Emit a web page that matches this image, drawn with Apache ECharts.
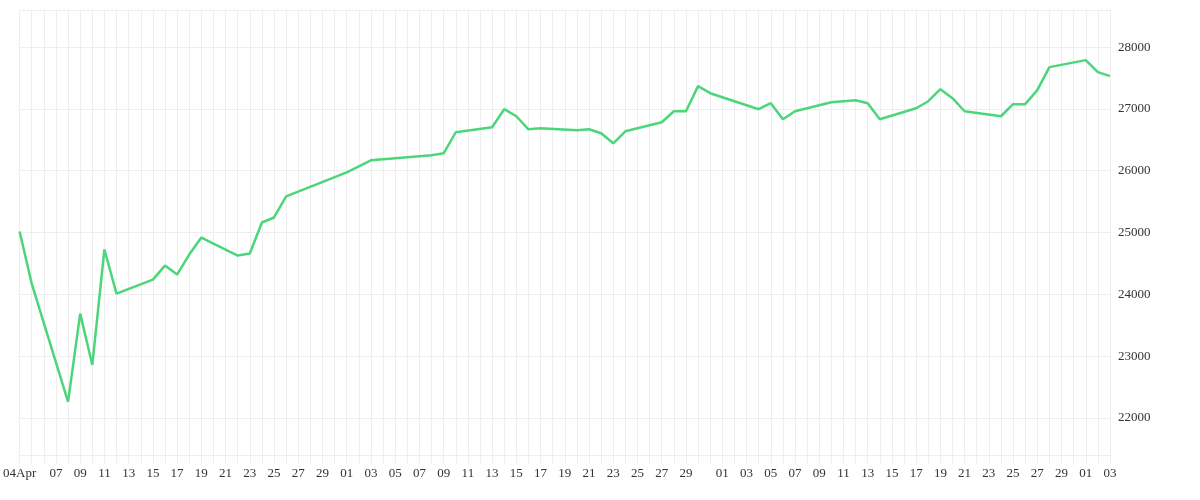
<!DOCTYPE html><html><head><meta charset="utf-8"><script src="https://cdn.jsdelivr.net/npm/echarts@6/dist/echarts.min.js"></script></head><body style="margin:0"><div id="c" style="width:1200px;height:500px"></div><script>
const pointDates=['04-04','04-05','04-08','04-09','04-10','04-11','04-12','04-15','04-16','04-17','04-18','04-19','04-22','04-23','04-24','04-25','04-26','05-01','05-03','05-08','05-09','05-10','05-13','05-14','05-15','05-16','05-17','05-20','05-21','05-22','05-23','05-24','05-27','05-28','05-29','05-30','05-31','06-04','06-05','06-06','06-07','06-10','06-12','06-13','06-14','06-17','06-18','06-19','06-20','06-21','06-24','06-25','06-26','06-27','06-28','07-01','07-02','07-03'];
const values=[25016,24173,22260,23687,22860,24725,24011,24238,24465,24319,24643,24919,24627,24660,25162,25243,25584,25973,26168,26249,26281,26622,26703,26995,26881,26670,26686,26654,26670,26605,26443,26638,26784,26962,26962,27368,27254,26995,27092,26832,26962,27108,27141,27092,26832,27011,27124,27319,27173,26962,26881,27076,27076,27303,27676,27789,27595,27530];
const yTicks=[22000,23000,24000,25000,26000,27000,28000];
const cats=[];const dayNums=[];
const monthLen={4:30,5:31,6:30,7:31};let m=4,d=4;
for(let k=0;k<91;k++){cats.push(String(m).padStart(2,'0')+'-'+String(d).padStart(2,'0'));dayNums.push(d);d++;if(d>monthLen[m]){m++;d=1;}}
const map={};pointDates.forEach((p,i)=>map[p]=values[i]);
const data=cats.map(c=>map[c]===undefined?null:map[c]);
const show=i=>i===0||(i>2&&dayNums[i]%2===1&&dayNums[i]!==31);
echarts.init(document.getElementById('c')).setOption({
animation:false,
grid:{left:15,right:90,top:10,bottom:45},
xAxis:{type:'category',data:cats,boundaryGap:false,
axisLine:{show:false},axisTick:{show:true,interval:0,length:8,lineStyle:{color:'#eeeeee'}},
splitLine:{show:true,interval:0,lineStyle:{color:'#eeeeee'}},
axisLabel:{interval:(i)=>show(i),color:'#333',fontFamily:'Liberation Serif',fontSize:13,margin:12,
formatter:(v,i)=>i===0?'04Apr':v.slice(3)}},
yAxis:{type:'value',position:'right',min:21400,max:28600,splitNumber:7,
axisLine:{show:false},axisTick:{show:false},
splitLine:{lineStyle:{color:'#eeeeee'}},
axisLabel:{color:'#333',fontFamily:'Liberation Serif',fontSize:13,margin:8,showMinLabel:false,showMaxLabel:false,
formatter:v=>yTicks.includes(v)?String(v):''}},
series:[{type:'line',data:data,connectNulls:true,showSymbol:false,symbol:'none',
lineStyle:{color:'#4cd67a',width:2.5}}]
});
</script></body></html>
